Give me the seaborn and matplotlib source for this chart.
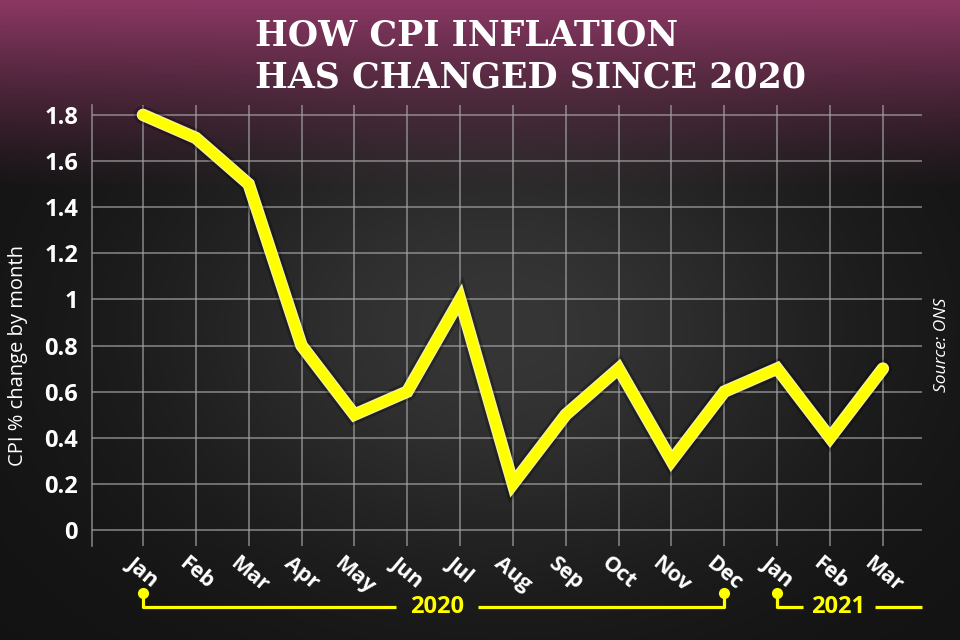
import numpy as np
import pandas as pd
import matplotlib
matplotlib.use("Agg")
import matplotlib.pyplot as plt
import matplotlib.patheffects as pe
import matplotlib.transforms as mtransforms
import seaborn as sns

# Veriler
months = ["Jan", "Feb", "Mar", "Apr", "May", "Jun", "Jul", "Aug",
          "Sep", "Oct", "Nov", "Dec", "Jan", "Feb", "Mar"]
cpi = [1.8, 1.7, 1.5, 0.8, 0.5, 0.6, 1.0, 0.2, 0.5, 0.7, 0.3, 0.6, 0.7, 0.4, 0.7]
y_ticks = [0, 0.2, 0.4, 0.6, 0.8, 1.0, 1.2, 1.4, 1.6, 1.8]

df = pd.DataFrame({"idx": np.arange(len(months)), "cpi": cpi})

sns.set_theme(style="dark")
plt.rcParams["font.family"] = ["Open Sans", "DejaVu Sans"]

fig = plt.figure(figsize=(9.6, 6.4), dpi=100)

# Arka plan: üstte bordo, altta koyu gri, ortada hafif parlama
H, W = 640, 960
yy, xx = np.mgrid[0:H, 0:W].astype(float)
base = np.array([18, 18, 18], float)
glow = np.exp(-(((xx - 500) / 340) ** 2 + ((yy - 330) / 240) ** 2))
img = base[None, None, :] + glow[..., None] * np.array([36, 36, 36])
top = np.array([140, 56, 100], float)
t = np.clip(yy / 190.0, 0, 1)
wtop = ((1 - t) ** 1.2)[..., None]
img = img * (1 - wtop) + top[None, None, :] * wtop
bg = fig.add_axes([0, 0, 1, 1], zorder=-1)
bg.imshow(np.clip(img, 0, 255).astype(np.uint8), aspect="auto")
bg.axis("off")

ax = fig.add_axes([0.0958, 0.147, 0.8646, 0.689])
ax.set_facecolor("none")

sns.lineplot(data=df, x="idx", y="cpi", ax=ax, color="#ffff00", lw=7.2,
             solid_joinstyle="miter", solid_capstyle="round", zorder=5,
             path_effects=[pe.Stroke(linewidth=13, foreground="black", alpha=0.25),
                           pe.Stroke(linewidth=9, foreground="#f6f4a0"),
                           pe.Normal()])

ax.set_xlim(-0.965, 14.74)
ax.set_ylim(-0.069, 1.843)
ax.set_xticks(df["idx"])
ax.set_xticklabels(months, rotation=-40, ha="center", va="top",
                   fontsize=15.5, color="white", fontweight="bold")
ax.set_yticks(y_ticks)
ax.set_yticklabels([f"{v:g}" for v in y_ticks], fontsize=17,
                   color="white", fontweight="bold")
ax.tick_params(axis="both", length=0)
ax.tick_params(axis="y", pad=10)
ax.tick_params(axis="x", pad=5)
ax.set_xlabel("")
ax.set_ylabel("")
ax.grid(True, color="#a0a0a0", lw=1.2, alpha=0.75)
for s in ["top", "right", "bottom"]:
    ax.spines[s].set_visible(False)
ax.spines["left"].set_color("#a0a0a0")
ax.spines["left"].set_alpha(0.75)
ax.spines["left"].set_linewidth(1.2)

# Yıl köşeli çizgileri
yellow = "#ffff00"
tr = mtransforms.blended_transform_factory(ax.transData, ax.transAxes)
y_dot, y_line = -0.107, -0.138
kw = dict(color=yellow, lw=2.3, transform=tr, clip_on=False,
          solid_capstyle="butt")
ax.plot([0, 0, 4.79], [y_dot, y_line, y_line], **kw)
ax.plot([6.34, 11, 11], [y_line, y_line, y_dot], **kw)
ax.plot([12, 12, 12.49], [y_dot, y_line, y_line], **kw)
ax.plot([13.85, 14.74], [y_line, y_line], **kw)
ax.plot([0, 11, 12], [y_dot] * 3, "o", ms=7, color=yellow,
        transform=tr, clip_on=False)
ax.text(5.56, y_line, "2020", transform=tr, color=yellow, fontsize=17,
        fontweight="bold", ha="center", va="center")
ax.text(13.15, y_line, "2021", transform=tr, color=yellow, fontsize=17,
        fontweight="bold", ha="center", va="center")

# Başlık ve etiketler
title_kw = dict(color="white", fontsize=25, fontweight="bold",
                family=["DejaVu Serif", "DejaVu Sans"],
                ha="left", va="center")
fig.text(255 / 960, 1 - 35 / 640, "HOW CPI INFLATION", **title_kw)
fig.text(255 / 960, 1 - 77 / 640, "HAS CHANGED SINCE 2020", **title_kw)
fig.text(18 / 960, 1 - 355 / 640, "CPI % change by month", rotation=90,
         color="white", fontsize=14.5, ha="center", va="center")
fig.text(942 / 960, 1 - 345 / 640, "Source: ONS", rotation=90,
         color="white", fontsize=12.5, style="italic", ha="center", va="center")

fig.savefig("out.png", dpi=100)
